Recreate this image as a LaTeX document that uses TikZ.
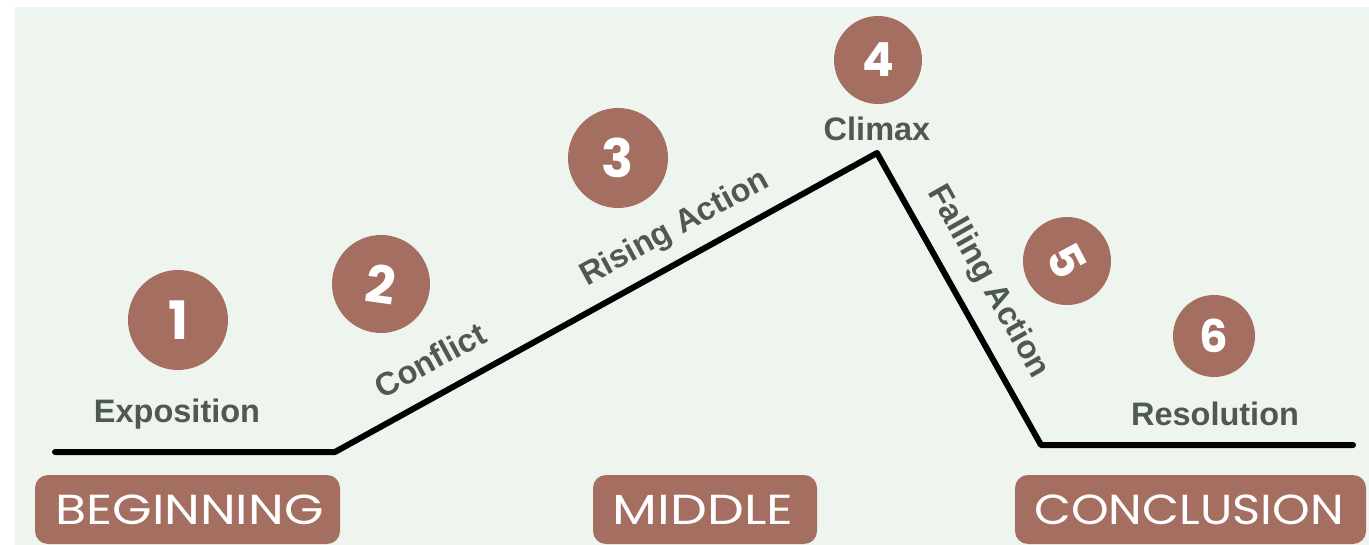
\documentclass[tikz,border=0pt]{standalone}
\usepackage{fontspec}
\setmainfont{Liberation Sans}
\newfontfamily\boxfont{Poppins}
\definecolor{bg}{HTML}{EEF5EE}
\definecolor{brown}{HTML}{A46F61}
\definecolor{labelgray}{HTML}{505854}
\tikzset{
  num/.style={circle, fill=brown, text=white, inner sep=0pt, font=\boxfont\bfseries\fontsize{#1}{#1}\selectfont},
  lbl/.style={text=labelgray, inner sep=0pt, font=\bfseries\fontsize{32.5}{32.5}\selectfont},
  part/.style={fill=brown, rounded corners=13pt},
  parttext/.style={text=white, inner sep=0pt, font=\boxfont\fontsize{42}{42}\selectfont},
  arc/.style={line width=6pt, line cap=round, line join=round, black}
}
\begin{document}
\begin{tikzpicture}[x=1pt,y=-1pt]
\useasboundingbox (0,0) rectangle (1369,545);
\fill[white] (0,0) rectangle (1369,545);
\fill[bg] (15,7) rectangle (1369,545);
% plot line
\coordinate (p0) at (55,452);
\coordinate (p1) at (335,452);
\coordinate (p2) at (877,153);
\coordinate (p3) at (1041,445);
\coordinate (p4) at (1353,445);
\draw[arc] (p0) -- (p1) -- (p2) -- (p3) -- (p4);
% numbered circles
\node[num=53, minimum size=100pt] (c1) at (178,320) {1};
\node[num=52, minimum size=98pt] (c2) at (381,284) {\rotatebox{-8}{2}};
\node[num=53, minimum size=100pt] (c3) at (618,158) {3};
\node[num=47, minimum size=88pt] (c4) at (878,60) {4};
\node[num=47, minimum size=88pt] (c5) at (1067,261) {\rotatebox{-62}{5}};
\node[num=45, minimum size=82pt] (c6) at (1214,336) {6};
% labels
\node[lbl] (l1) at (177,414) {Exposition};
\node[lbl, rotate=28.6] (l2) at (430,360) {Conflict};
\node[lbl, rotate=28.6] (l3) at (675,229) {Rising Action};
\node[lbl] (l4) at (877,129) {Climax};
\node[lbl, rotate=-60.5] (l5) at (988,282) {Falling Action};
\node[lbl] (l6) at (1215,414) {Resolution};
% parts
\fill[part] (35,475) rectangle (340,544);
\node[parttext] (b1) at (189.5,510) {\scalebox{1.21}[1]{BEGINNING}};
\fill[part] (593,475) rectangle (817,544);
\node[parttext] (b2) at (703,510) {\scalebox{1.24}[1]{MIDDLE}};
\fill[part] (1015,475) rectangle (1366,544);
\node[parttext] (b3) at (1189,510) {\scalebox{1.14}[1]{CONCLUSION}};
\end{tikzpicture}
\end{document}
